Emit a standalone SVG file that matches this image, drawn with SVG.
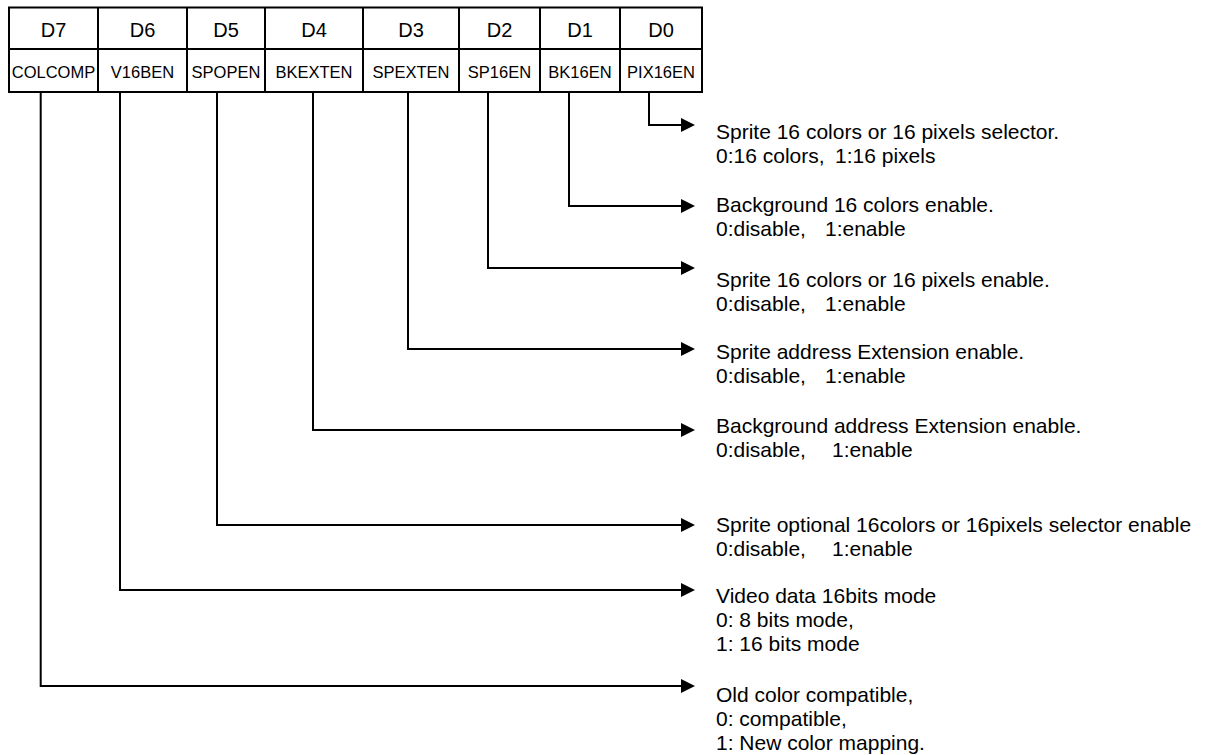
<svg xmlns="http://www.w3.org/2000/svg" width="1207" height="755" viewBox="0 0 1207 755">
<style>
text{font-family:"Liberation Sans",Arial,sans-serif;fill:#000}
.h{font-size:20px;text-anchor:middle}
.n{font-size:16.5px;text-anchor:middle}
.d{font-size:21px}
.ln{fill:none;stroke:#000;stroke-width:2}
</style>
<defs>
<marker id="ah" markerUnits="userSpaceOnUse" markerWidth="15" markerHeight="15" refX="4" refY="7" orient="auto">
<path d="M0,0 L14,7 L0,14 Z" fill="#000"/>
</marker>
</defs>
<g id="register">
<rect class="ln" x="9" y="7.5" width="693" height="84.5"/>
<line class="ln" x1="9" y1="49" x2="702" y2="49"/>
<line class="ln" x1="98" y1="7.5" x2="98" y2="92"/>
<line class="ln" x1="187" y1="7.5" x2="187" y2="92"/>
<line class="ln" x1="265" y1="7.5" x2="265" y2="92"/>
<line class="ln" x1="363" y1="7.5" x2="363" y2="92"/>
<line class="ln" x1="459" y1="7.5" x2="459" y2="92"/>
<line class="ln" x1="540" y1="7.5" x2="540" y2="92"/>
<line class="ln" x1="620" y1="7.5" x2="620" y2="92"/>
<text class="h" x="53.5" y="37">D7</text>
<text class="h" x="142.5" y="37">D6</text>
<text class="h" x="226" y="37">D5</text>
<text class="h" x="314" y="37">D4</text>
<text class="h" x="411" y="37">D3</text>
<text class="h" x="499.5" y="37">D2</text>
<text class="h" x="580" y="37">D1</text>
<text class="h" x="661" y="37">D0</text>
<text class="n" x="53.5" y="78">COLCOMP</text>
<text class="n" x="142.5" y="78">V16BEN</text>
<text class="n" x="226" y="78">SPOPEN</text>
<text class="n" x="314" y="78">BKEXTEN</text>
<text class="n" x="411" y="78">SPEXTEN</text>
<text class="n" x="499.5" y="78">SP16EN</text>
<text class="n" x="580" y="78">BK16EN</text>
<text class="n" x="661" y="78">PIX16EN</text>
</g>
<g id="connectors">
<path class="ln" marker-end="url(#ah)" d="M649,92 V125 H685"/>
<path class="ln" marker-end="url(#ah)" d="M569,92 V206 H685"/>
<path class="ln" marker-end="url(#ah)" d="M488,92 V268 H685"/>
<path class="ln" marker-end="url(#ah)" d="M408,92 V349 H685"/>
<path class="ln" marker-end="url(#ah)" d="M313,92 V430 H685"/>
<path class="ln" marker-end="url(#ah)" d="M217,92 V525 H685"/>
<path class="ln" marker-end="url(#ah)" d="M120,92 V590 H685"/>
<path class="ln" marker-end="url(#ah)" d="M40.7,92 V686 H685"/>
</g>
<g id="desc-d0">
<text class="d" x="716" y="139">Sprite 16 colors or 16 pixels selector.</text>
<text class="d" x="716" y="163">0:16 colors,<tspan x="835">1:16 pixels</tspan></text>
</g>
<g id="desc-d1">
<text class="d" x="716" y="212">Background 16 colors enable.</text>
<text class="d" x="716" y="236">0:disable,<tspan x="825">1:enable</tspan></text>
</g>
<g id="desc-d2">
<text class="d" x="716" y="287">Sprite 16 colors or 16 pixels enable.</text>
<text class="d" x="716" y="311">0:disable,<tspan x="825">1:enable</tspan></text>
</g>
<g id="desc-d3">
<text class="d" x="716" y="359">Sprite address Extension enable.</text>
<text class="d" x="716" y="383">0:disable,<tspan x="825">1:enable</tspan></text>
</g>
<g id="desc-d4">
<text class="d" x="716" y="433">Background address Extension enable.</text>
<text class="d" x="716" y="457">0:disable,<tspan x="832">1:enable</tspan></text>
</g>
<g id="desc-d5">
<text class="d" x="716" y="532">Sprite optional 16colors or 16pixels selector enable</text>
<text class="d" x="716" y="556">0:disable,<tspan x="832">1:enable</tspan></text>
</g>
<g id="desc-d6">
<text class="d" x="716" y="603">Video data 16bits mode</text>
<text class="d" x="716" y="627">0: 8 bits mode,</text>
<text class="d" x="716" y="651">1: 16 bits mode</text>
</g>
<g id="desc-d7">
<text class="d" x="716" y="702">Old color compatible,</text>
<text class="d" x="716" y="726">0: compatible,</text>
<text class="d" x="716" y="750">1: New color mapping.</text>
</g>
</svg>
